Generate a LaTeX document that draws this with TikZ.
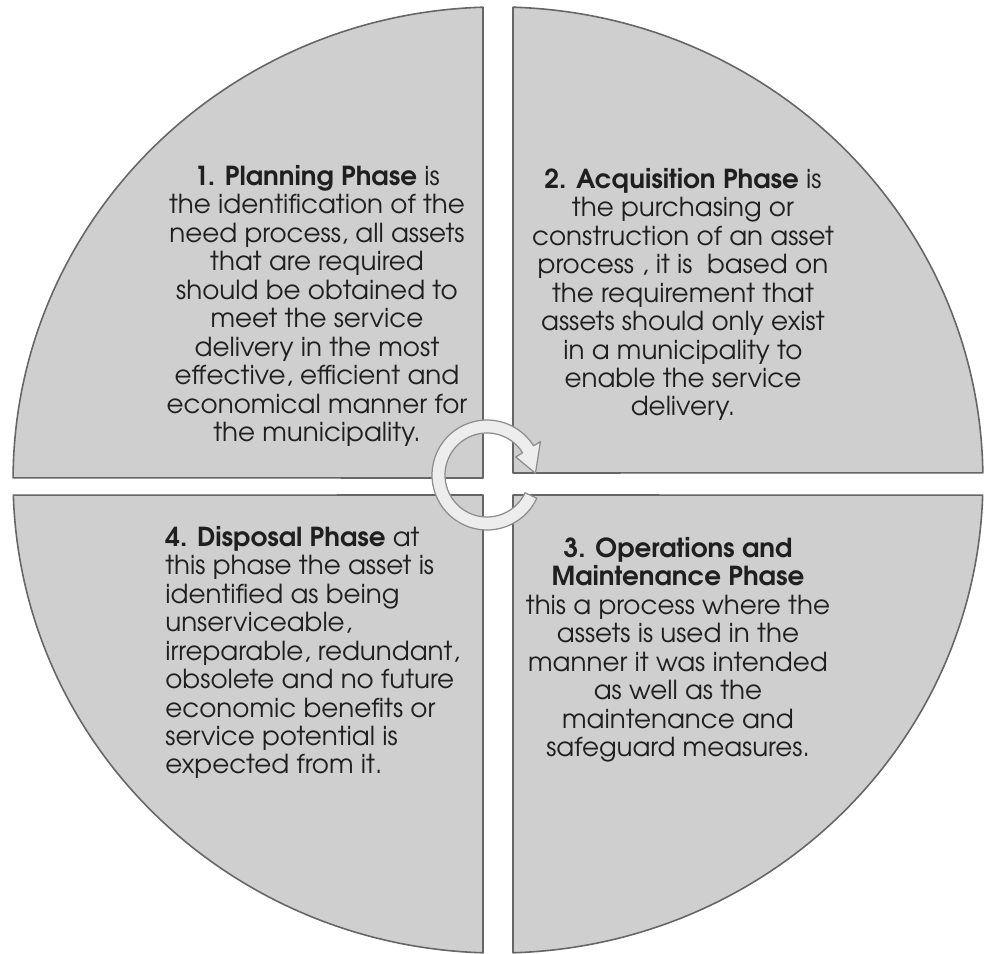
\documentclass[tikz,border=0pt]{standalone}
\usepackage{fontspec}
\setmainfont{TeX Gyre Adventor}
\usetikzlibrary{calc}
\begin{document}
\begin{tikzpicture}[x=0.02cm,y=0.02cm,
  quad/.style={fill=black!19, draw=black!60, line width=0.9pt, line join=round},
  txt/.style={inner sep=0pt, font=\fontsize{14.9}{16.2}\selectfont, text=black!88},
  ring/.style={fill=black!7, draw=black!45, line width=0.7pt, line join=round}]
\fill[white] (0,0) rectangle (985,954);
\useasboundingbox (0,0) rectangle (985,954);
% quadrants (ellipse centre (498,474), rx=9.7cm, ry=9.46cm)
\draw[quad] (483,476) -- (483,946.8) arc[start angle=91.77, end angle=179.76, x radius=9.7cm, y radius=9.46cm] -- cycle;
\draw[quad] (513,481) -- (513,946.8) arc[start angle=88.23, end angle=0.85, x radius=9.7cm, y radius=9.46cm] -- cycle;
\draw[quad] (483,459) -- (483,1.2) arc[start angle=268.23, end angle=181.82, x radius=9.7cm, y radius=9.46cm] -- cycle;
\draw[quad] (513,459) -- (513,1.2) arc[start angle=271.77, end angle=358.18, x radius=9.7cm, y radius=9.46cm] -- cycle;
% centre cycle arrow
\coordinate (O) at (487,479);
\draw[ring] ([shift={(O)}]-25:1.1cm) arc[start angle=-25, end angle=-328, radius=1.1cm]
  -- ([shift={(O)}]32:1.26cm) -- ([shift={(O)}]2:0.97cm) -- ([shift={(O)}]32:0.68cm)
  -- ([shift={(O)}]32:0.84cm) arc[start angle=-328, end angle=-25, radius=0.84cm] -- cycle;
% texts (anchor = baseline of the last line)
\node[txt, align=center, anchor=base] (p1) at (317,512.5) {\textbf{1. Planning Phase} is\\the identification of the\\need process, all assets\\that are required\\should be obtained to\\meet the service\\delivery in the most\\effective, efficient and\\economical manner for\\the municipality.};
\node[txt, align=center, anchor=base] (p2) at (683,538) {\textbf{2. Acquisition Phase} is\\the purchasing or\\construction of an asset\\process , it is\ \ based on\\the requirement that\\assets should only exist\\in a municipality to\\enable the service\\delivery.};
\node[txt, align=center, anchor=base] (p3) at (678,197.5) {\textbf{3. Operations and}\\\textbf{Maintenance Phase}\\this a process where the\\assets is used in the\\manner it was intended\\as well as the\\maintenance and\\safeguard measures.};
\node[txt, align=left, anchor=base west] (p4) at (165,180) {\textbf{4. Disposal Phase} at\\this phase the asset is\\identified as being\\unserviceable,\\irreparable, redundant,\\obsolete and no future\\economic benefits or\\service potential is\\expected from it.};
\end{tikzpicture}
\end{document}
